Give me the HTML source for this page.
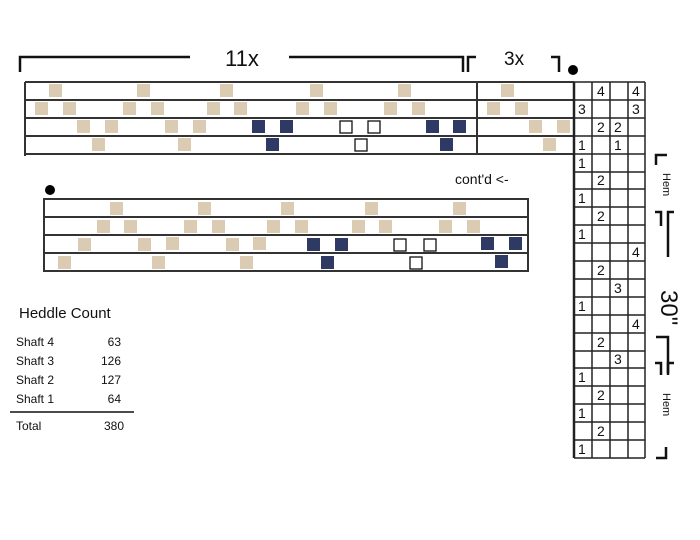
<!DOCTYPE html>
<html><head><meta charset="utf-8"><style>
html,body{margin:0;padding:0;background:#fff;}
svg{display:block;font-family:"Liberation Sans",sans-serif;}
</style></head><body>
<svg width="700" height="540" viewBox="0 0 700 540" xmlns="http://www.w3.org/2000/svg">
<!-- brackets top -->
<g stroke="#111" stroke-width="2.5" fill="none">
<polyline points="20,72 20,57 190,57"/>
<polyline points="289,57 463,57 463,72"/>
<polyline points="468,72 468,57 476,57"/>
<polyline points="551,57 559,57 559,72"/>
</g>
<text x="225" y="66" font-size="22" fill="#111">11x</text>
<text x="504" y="65" font-size="19" fill="#111">3x</text>
<circle cx="573" cy="70" r="5" fill="#000"/>
<!-- top draft lines -->
<g stroke="#333" stroke-width="2">
<line x1="25" y1="82" x2="574" y2="82"/>
<line x1="25" y1="100" x2="574" y2="100"/>
<line x1="25" y1="118" x2="574" y2="118"/>
<line x1="25" y1="136" x2="574" y2="136"/>
<line x1="25" y1="154" x2="574" y2="154"/>
<line x1="25" y1="82" x2="25" y2="156"/>
<line x1="477" y1="82" x2="477" y2="154"/>
</g>
<g fill="#dccbb3">
<rect x="49" y="84" width="13" height="13"/><rect x="137" y="84" width="13" height="13"/><rect x="220" y="84" width="13" height="13"/><rect x="310" y="84" width="13" height="13"/><rect x="398" y="84" width="13" height="13"/><rect x="501" y="84" width="13" height="13"/>
<rect x="35" y="102" width="13" height="13"/><rect x="63" y="102" width="13" height="13"/><rect x="123" y="102" width="13" height="13"/><rect x="151" y="102" width="13" height="13"/><rect x="207" y="102" width="13" height="13"/><rect x="234" y="102" width="13" height="13"/><rect x="296" y="102" width="13" height="13"/><rect x="324" y="102" width="13" height="13"/><rect x="384" y="102" width="13" height="13"/><rect x="412" y="102" width="13" height="13"/><rect x="487" y="102" width="13" height="13"/><rect x="515" y="102" width="13" height="13"/>
<rect x="77" y="120" width="13" height="13"/><rect x="105" y="120" width="13" height="13"/><rect x="165" y="120" width="13" height="13"/><rect x="193" y="120" width="13" height="13"/><rect x="529" y="120" width="13" height="13"/><rect x="557" y="120" width="13" height="13"/>
<rect x="92" y="138" width="13" height="13"/><rect x="178" y="138" width="13" height="13"/><rect x="543" y="138" width="13" height="13"/>
</g>
<g fill="#2e3a64">
<rect x="252" y="120" width="13" height="13"/><rect x="280" y="120" width="13" height="13"/><rect x="426" y="120" width="13" height="13"/><rect x="453" y="120" width="13" height="13"/>
<rect x="266" y="138" width="13" height="13"/><rect x="440" y="138" width="13" height="13"/>
</g>
<g fill="#fff" stroke="#111" stroke-width="1.3">
<rect x="340" y="121" width="12" height="12"/><rect x="368" y="121" width="12" height="12"/><rect x="355" y="139" width="12" height="12"/>
</g>
<!-- second draft -->
<circle cx="50" cy="190" r="5" fill="#000"/>
<text x="455" y="184" font-size="14" fill="#111">cont'd &lt;-</text>
<g stroke="#333" stroke-width="2" fill="none">
<rect x="44" y="199" width="484" height="72"/>
<line x1="44" y1="217" x2="528" y2="217"/>
<line x1="44" y1="235" x2="528" y2="235"/>
<line x1="44" y1="253" x2="528" y2="253"/>
</g>
<g fill="#dccbb3">
<rect x="110" y="202" width="13" height="13"/><rect x="198" y="202" width="13" height="13"/><rect x="281" y="202" width="13" height="13"/><rect x="365" y="202" width="13" height="13"/><rect x="453" y="202" width="13" height="13"/>
<rect x="97" y="220" width="13" height="13"/><rect x="124" y="220" width="13" height="13"/><rect x="184" y="220" width="13" height="13"/><rect x="212" y="220" width="13" height="13"/><rect x="267" y="220" width="13" height="13"/><rect x="295" y="220" width="13" height="13"/><rect x="352" y="220" width="13" height="13"/><rect x="379" y="220" width="13" height="13"/><rect x="439" y="220" width="13" height="13"/><rect x="467" y="220" width="13" height="13"/>
<rect x="78" y="238" width="13" height="13"/><rect x="138" y="238" width="13" height="13"/><rect x="166" y="237" width="13" height="13"/><rect x="226" y="238" width="13" height="13"/><rect x="253" y="237" width="13" height="13"/>
<rect x="58" y="256" width="13" height="13"/><rect x="152" y="256" width="13" height="13"/><rect x="240" y="256" width="13" height="13"/>
</g>
<g fill="#2e3a64">
<rect x="307" y="238" width="13" height="13"/><rect x="335" y="238" width="13" height="13"/><rect x="481" y="237" width="13" height="13"/><rect x="509" y="237" width="13" height="13"/>
<rect x="321" y="256" width="13" height="13"/><rect x="495" y="255" width="13" height="13"/>
</g>
<g fill="#fff" stroke="#111" stroke-width="1.3">
<rect x="394" y="239" width="12" height="12"/><rect x="424" y="239" width="12" height="12"/><rect x="410" y="257" width="12" height="12"/>
</g>
<!-- right grid -->
<g stroke="#222" stroke-width="1.5">
<line x1="574" y1="82" x2="574" y2="458" stroke-width="2.5"/>
<line x1="592" y1="82" x2="592" y2="458"/>
<line x1="610" y1="82" x2="610" y2="458"/>
<line x1="628" y1="82" x2="628" y2="458"/>
<line x1="645" y1="82" x2="645" y2="458"/>
<line x1="574" y1="82" x2="645" y2="82"/><line x1="574" y1="100" x2="645" y2="100"/><line x1="574" y1="118" x2="645" y2="118"/><line x1="574" y1="136" x2="645" y2="136"/><line x1="574" y1="154" x2="645" y2="154"/><line x1="574" y1="172" x2="645" y2="172"/><line x1="574" y1="189" x2="645" y2="189"/><line x1="574" y1="207" x2="645" y2="207"/><line x1="574" y1="225" x2="645" y2="225"/><line x1="574" y1="243" x2="645" y2="243"/><line x1="574" y1="261" x2="645" y2="261"/><line x1="574" y1="279" x2="645" y2="279"/><line x1="574" y1="297" x2="645" y2="297"/><line x1="574" y1="315" x2="645" y2="315"/><line x1="574" y1="333" x2="645" y2="333"/><line x1="574" y1="351" x2="645" y2="351"/><line x1="574" y1="368" x2="645" y2="368"/><line x1="574" y1="386" x2="645" y2="386"/><line x1="574" y1="404" x2="645" y2="404"/><line x1="574" y1="422" x2="645" y2="422"/><line x1="574" y1="440" x2="645" y2="440"/><line x1="574" y1="458" x2="645" y2="458"/>
</g>
<g font-size="14" fill="#111">
<text x="597" y="96">4</text><text x="632" y="96">4</text>
<text x="578" y="114">3</text><text x="632" y="114">3</text>
<text x="597" y="132">2</text><text x="614" y="132">2</text>
<text x="578" y="150">1</text><text x="614" y="150">1</text>
<text x="578" y="168">1</text>
<text x="597" y="185">2</text>
<text x="578" y="203">1</text>
<text x="597" y="221">2</text>
<text x="578" y="239">1</text>
<text x="632" y="257">4</text>
<text x="597" y="275">2</text>
<text x="614" y="293">3</text>
<text x="578" y="311">1</text>
<text x="632" y="329">4</text>
<text x="597" y="347">2</text>
<text x="614" y="364">3</text>
<text x="578" y="382">1</text>
<text x="597" y="400">2</text>
<text x="578" y="418">1</text>
<text x="597" y="436">2</text>
<text x="578" y="454">1</text>
</g>
<!-- right brackets -->
<g stroke="#111" stroke-width="2.5" fill="none">
<polyline points="656,165 656,155 667,155"/>
<polyline points="655,212 661,212 661,226"/>
<polyline points="668,257 668,212 674,212"/>
<polyline points="656,337 668,337 668,375"/>
<polyline points="655,363 661,363 661,375"/>
<polyline points="668,373 668,363 674,363"/>
<polyline points="656,458 666,458 666,447"/>
</g>
<text transform="translate(663,173) rotate(90)" font-size="11" fill="#111">Hem</text>
<text transform="translate(661,290) rotate(90)" font-size="24" fill="#111">30"</text>
<text transform="translate(663,393) rotate(90)" font-size="11" fill="#111">Hem</text>
<!-- heddle count -->
<g fill="#111">
<text x="19" y="318" font-size="15">Heddle Count</text>
<text x="16" y="346" font-size="12">Shaft 4</text><text x="121" y="346" font-size="12" text-anchor="end">63</text>
<text x="16" y="365" font-size="12">Shaft 3</text><text x="121" y="365" font-size="12" text-anchor="end">126</text>
<text x="16" y="384" font-size="12">Shaft 2</text><text x="121" y="384" font-size="12" text-anchor="end">127</text>
<text x="16" y="403" font-size="12">Shaft 1</text><text x="121" y="403" font-size="12" text-anchor="end">64</text>
<text x="16" y="430" font-size="12">Total</text><text x="124" y="430" font-size="12" text-anchor="end">380</text>
</g>
<line x1="10" y1="412" x2="134" y2="412" stroke="#111" stroke-width="1.5"/>
</svg>
</body></html>
